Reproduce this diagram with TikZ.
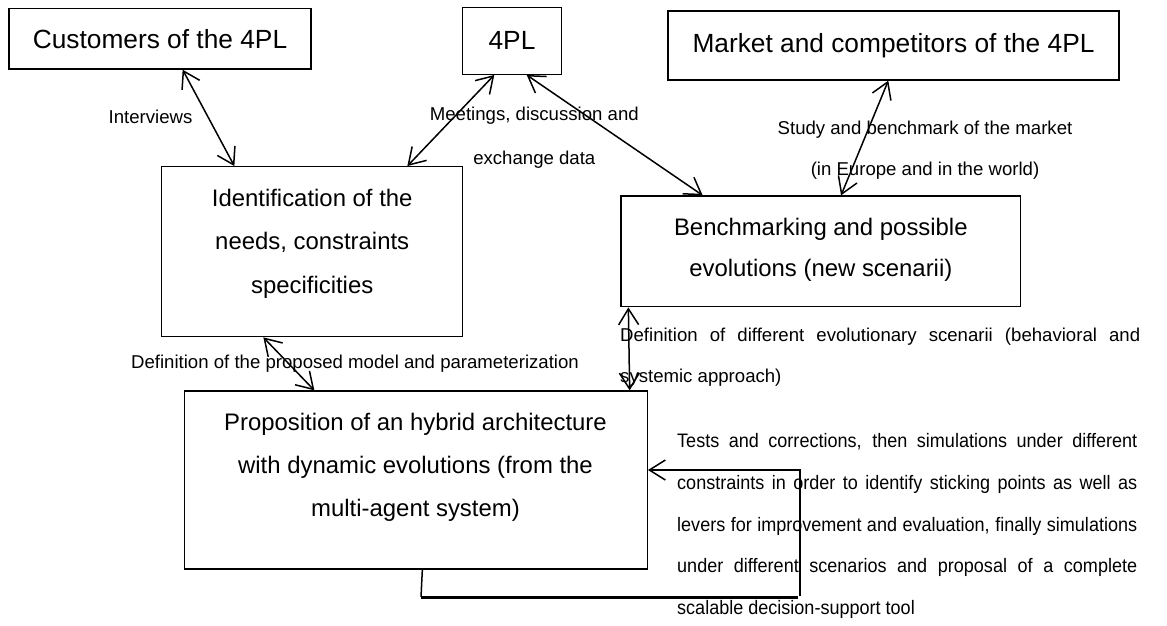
\documentclass[tikz,border=0pt]{standalone}
\usepackage{fontspec}
\setmainfont{Liberation Sans}
\newfontfamily\narrowsans[FakeStretch=0.925]{Liberation Sans}
\usetikzlibrary{arrows.meta}
\begin{document}
\begin{tikzpicture}[x=1pt,y=-1pt,
  >={Straight Barb[length=16pt,width=20pt]},
  box/.style={draw, line width=1.3pt, inner sep=0pt},
  bigtxt/.style={font=\fontsize{26.3}{30}\selectfont},
  midtxt/.style={align=center, inner sep=0pt},
  lbl/.style={font=\fontsize{18.6}{22}\selectfont, inner sep=0pt},
  conn/.style={line width=1.5pt, <->},
]
\useasboundingbox (0,0) rectangle (1167,625);

% top boxes
\node[box, minimum width=302pt, minimum height=60.7pt, bigtxt] (cust) at (160,38.7) {Customers of the 4PL};
\node[box, minimum width=98.6pt, minimum height=67pt, bigtxt] (fpl) at (512,40.8) {4PL};
\node[box, minimum width=451pt, minimum height=69pt, bigtxt] (mkt) at (893.5,45.5) {Market and competitors of the 4PL};

% middle boxes
\node[box, minimum width=301pt, minimum height=170pt] (ident) at (312.2,251.7) {};
\node[midtxt, font=\fontsize{23.9}{43.5}\selectfont] (identT) at (312.2,243.5) {Identification of the\\needs, constraints\\specificities};
\node[box, minimum width=399.7pt, minimum height=110.7pt] (bench) at (820.85,251.35) {};
\node[midtxt, font=\fontsize{23.9}{41}\selectfont] (benchT) at (820.85,250.3) {Benchmarking and possible\\evolutions (new scenarii)};

% bottom box
\node[box, minimum width=463pt, minimum height=178pt] (prop) at (415.8,480) {};
\node[midtxt, font=\fontsize{23.9}{43}\selectfont] (propT) at (415.5,467) {Proposition of an hybrid architecture\\with dynamic evolutions (from the\\multi-agent system)};

% connectors
\draw[conn] ([xshift=174.3pt]cust.south west) -- ([xshift=73.3pt]ident.north west);
\draw[conn] ([xshift=-17.7pt]fpl.south) -- ([xshift=-56pt]ident.north east);
\draw[conn] ([xshift=14.7pt]fpl.south) -- ([xshift=82.3pt]bench.north west);
\draw[conn] ([xshift=-5.2pt]mkt.south) -- ([xshift=220.7pt]bench.north west);
\draw[conn] ([xshift=102.3pt]ident.south west) -- ([xshift=130.7pt]prop.north west);
\draw[conn] ([xshift=8pt]bench.south west) -- ([xshift=-18.3pt]prop.north east);

% feedback loop
\coordinate (f1) at (421,597);
\coordinate (f2) at (800,597);
\coordinate (f3) at (800,470);
\draw[line width=1.5pt] ([xshift=238.7pt]prop.south west) -- (f1);
\draw[line width=3pt] (f1) -- ([xshift=-2pt]f2);
\draw[line width=1.5pt, ->] ([yshift=1pt]f2) -- (f3) -- (prop.east |- f3);

% labels
\node[lbl] (lint) at (150.5,117) {Interviews};
\node[lbl, align=center, font=\fontsize{18.6}{43.7}\selectfont] (lmeet) at (534.3,138) {Meetings, discussion and\\exchange data};
\node[lbl, align=center, font=\fontsize{18.6}{41}\selectfont] (lstudy) at (925,150) {Study and benchmark of the market\\(in Europe and in the world)};
\node[lbl] (ldef) at (355,364) {Definition of the proposed model and parameterization};
\node[lbl, align=left, anchor=west, font=\fontsize{18.6}{41}\selectfont] (ldiff) at (620,357.5) {\makebox[520pt][s]{Definition of different evolutionary scenarii (behavioral and}\\systemic approach)};
\node[lbl, align=left, anchor=west, font=\narrowsans\fontsize{19.5}{41.75}\selectfont] (ltest) at (677,526) {\makebox[460pt][s]{Tests and corrections, then simulations under different}\\\makebox[460pt][s]{constraints in order to identify sticking points as well as}\\\makebox[460pt][s]{levers for improvement and evaluation, finally simulations}\\\makebox[460pt][s]{under different scenarios and proposal of a complete}\\scalable decision-support tool};
\end{tikzpicture}
\end{document}
